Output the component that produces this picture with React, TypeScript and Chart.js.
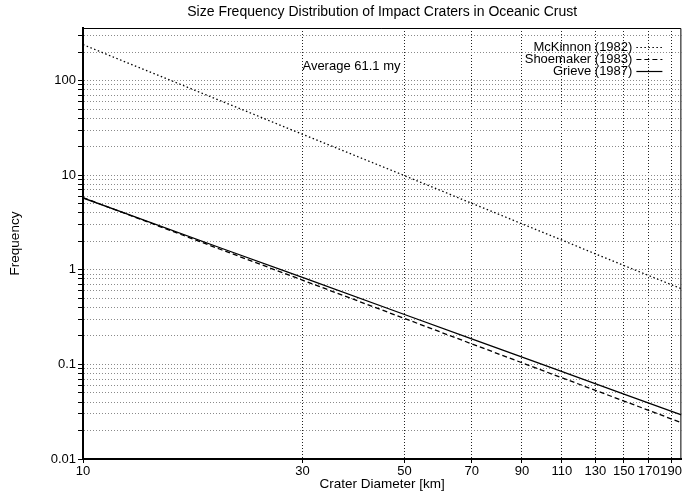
import React, { useEffect, useRef } from "react";
import { Chart, registerables } from "chart.js";

Chart.register(...registerables);

const diameters = [10, 20, 30, 50, 70, 100, 150, 200];
const mckinnon = [240, 60.7, 27.1, 9.9, 5.05, 2.49, 1.11, 0.63];
const shoemaker = [5.8, 1.63, 0.778, 0.306, 0.165, 0.0859, 0.041, 0.0242];
const grieve = [5.75, 1.69, 0.83, 0.337, 0.186, 0.0993, 0.0485, 0.0292];

const seriesLabels = ["McKinnon (1982)", "Shoemaker (1983)", "Grieve (1987)"];
const xTicks = [10, 30, 50, 70, 90, 110, 130, 150, 170, 190];
const yTicks = [
  0.01, 0.02, 0.03, 0.04, 0.05, 0.06, 0.07, 0.08, 0.09,
  0.1, 0.2, 0.3, 0.4, 0.5, 0.6, 0.7, 0.8, 0.9,
  1, 2, 3, 4, 5, 6, 7, 8, 9,
  10, 20, 30, 40, 50, 60, 70, 80, 90,
  100, 200, 300,
];
const yLabelled = [0.01, 0.1, 1, 10, 100];

const titleText = "Size Frequency Distribution of Impact Craters in Oceanic Crust";
const xTitle = "Crater Diameter [km]";
const yTitle = "Frequency";
const annotation = "Average 61.1 my";
const FONT = "'Liberation Sans', Arial, Helvetica, sans-serif";

const dashes = [[1.5, 2.5], [5, 3], []];

export default function App() {
  const ref = useRef<HTMLCanvasElement | null>(null);
  useEffect(() => {
    document.body.style.margin = "0";
    const canvas = ref.current!;
    const series = [mckinnon, shoemaker, grieve];
    const textPlugin = {
      id: "texts",
      afterDraw(chart: any) {
        const { ctx, chartArea: a, scales } = chart;
        ctx.save();
        // frame
        ctx.strokeStyle = "#000";
        ctx.lineWidth = 1;
        ctx.beginPath();
        ctx.moveTo(a.left, a.top + 0.5);
        ctx.lineTo(a.right - 0.5, a.top + 0.5);
        ctx.lineTo(a.right - 0.5, a.bottom);
        ctx.stroke();
        ctx.fillStyle = "#000";
        ctx.textAlign = "center";
        ctx.textBaseline = "middle";
        ctx.font = `14px ${FONT}`;
        ctx.fillText(titleText, (a.left + a.right) / 2, 12);
        ctx.font = `13.5px ${FONT}`;
        ctx.fillText(xTitle, (a.left + a.right) / 2, 484);
        ctx.save();
        ctx.translate(15, (a.top + a.bottom) / 2);
        ctx.rotate(-Math.PI / 2);
        ctx.fillText(yTitle, 0, 0);
        ctx.restore();
        ctx.font = `13px ${FONT}`;
        // annotation
        ctx.textAlign = "left";
        ctx.fillText(annotation, scales.x.getPixelForValue(30), scales.y.getPixelForValue(140));
        // legend
        const tx = a.right - 49;
        chart.data.datasets.forEach((ds: any, i: number) => {
          const y = a.top + 19 + i * 12;
          ctx.textAlign = "right";
          ctx.fillText(ds.label, tx, y);
          ctx.save();
          ctx.lineWidth = 1.2;
          ctx.setLineDash(ds.borderDash || []);
          ctx.beginPath();
          ctx.moveTo(tx + 4, y + 0.5);
          ctx.lineTo(tx + 30, y + 0.5);
          ctx.stroke();
          ctx.restore();
        });
        ctx.restore();
      },
    };
    const chart = new Chart(canvas, {
      type: "line",
      data: {
        datasets: series.map((s, i) => ({
          label: seriesLabels[i],
          data: diameters.map((d, j) => ({ x: d, y: s[j] })),
          borderColor: "#000",
          borderWidth: 1.3,
          borderDash: dashes[i],
          pointRadius: 0,
          fill: false,
          tension: 0,
        })),
      },
      options: {
        animation: false,
        responsive: false,
        maintainAspectRatio: false,
        layout: { padding: { top: 28, right: 1, left: 0, bottom: 0 } },
        plugins: { legend: { display: false }, title: { display: false }, tooltip: { enabled: false } },
        scales: {
          x: {
            type: "logarithmic",
            min: 10,
            max: 200,
            afterFit: (s: any) => { s.height = 33; },
            afterBuildTicks: (s: any) => { s.ticks = xTicks.map((v) => ({ value: v })); },
            ticks: {
              autoSkip: false,
              maxRotation: 0,
              padding: 1,
              color: "#000",
              font: { family: FONT, size: 13 },
              callback: (v: any) => String(v),
            },
            grid: { color: "#222", lineWidth: 1, tickLength: 4, tickColor: "#000", tickBorderDash: [] },
            border: { display: true, color: "#000", width: 2, dash: [1, 2] },
          },
          y: {
            type: "logarithmic",
            min: 0.01,
            max: 360,
            afterFit: (s: any) => { s.width = 83; },
            afterBuildTicks: (s: any) => { s.ticks = yTicks.map((v) => ({ value: v })); },
            ticks: {
              autoSkip: false,
              padding: 2,
              color: "#000",
              font: { family: FONT, size: 13 },
              callback: (v: any) => (yLabelled.includes(Number(v)) ? String(v) : ""),
            },
            grid: { color: "#8a8a8a", lineWidth: 1, tickLength: 5, tickColor: "#000", tickBorderDash: [] },
            border: { display: true, color: "#000", width: 2, dash: [1, 2] },
          },
        },
      },
      plugins: [textPlugin],
    });
    return () => chart.destroy();
  }, []);
  return (
    <div style={{ width: 683, height: 492, background: "#fff" }}>
      <canvas ref={ref} width={683} height={492} style={{ display: "block" }} />
    </div>
  );
}
